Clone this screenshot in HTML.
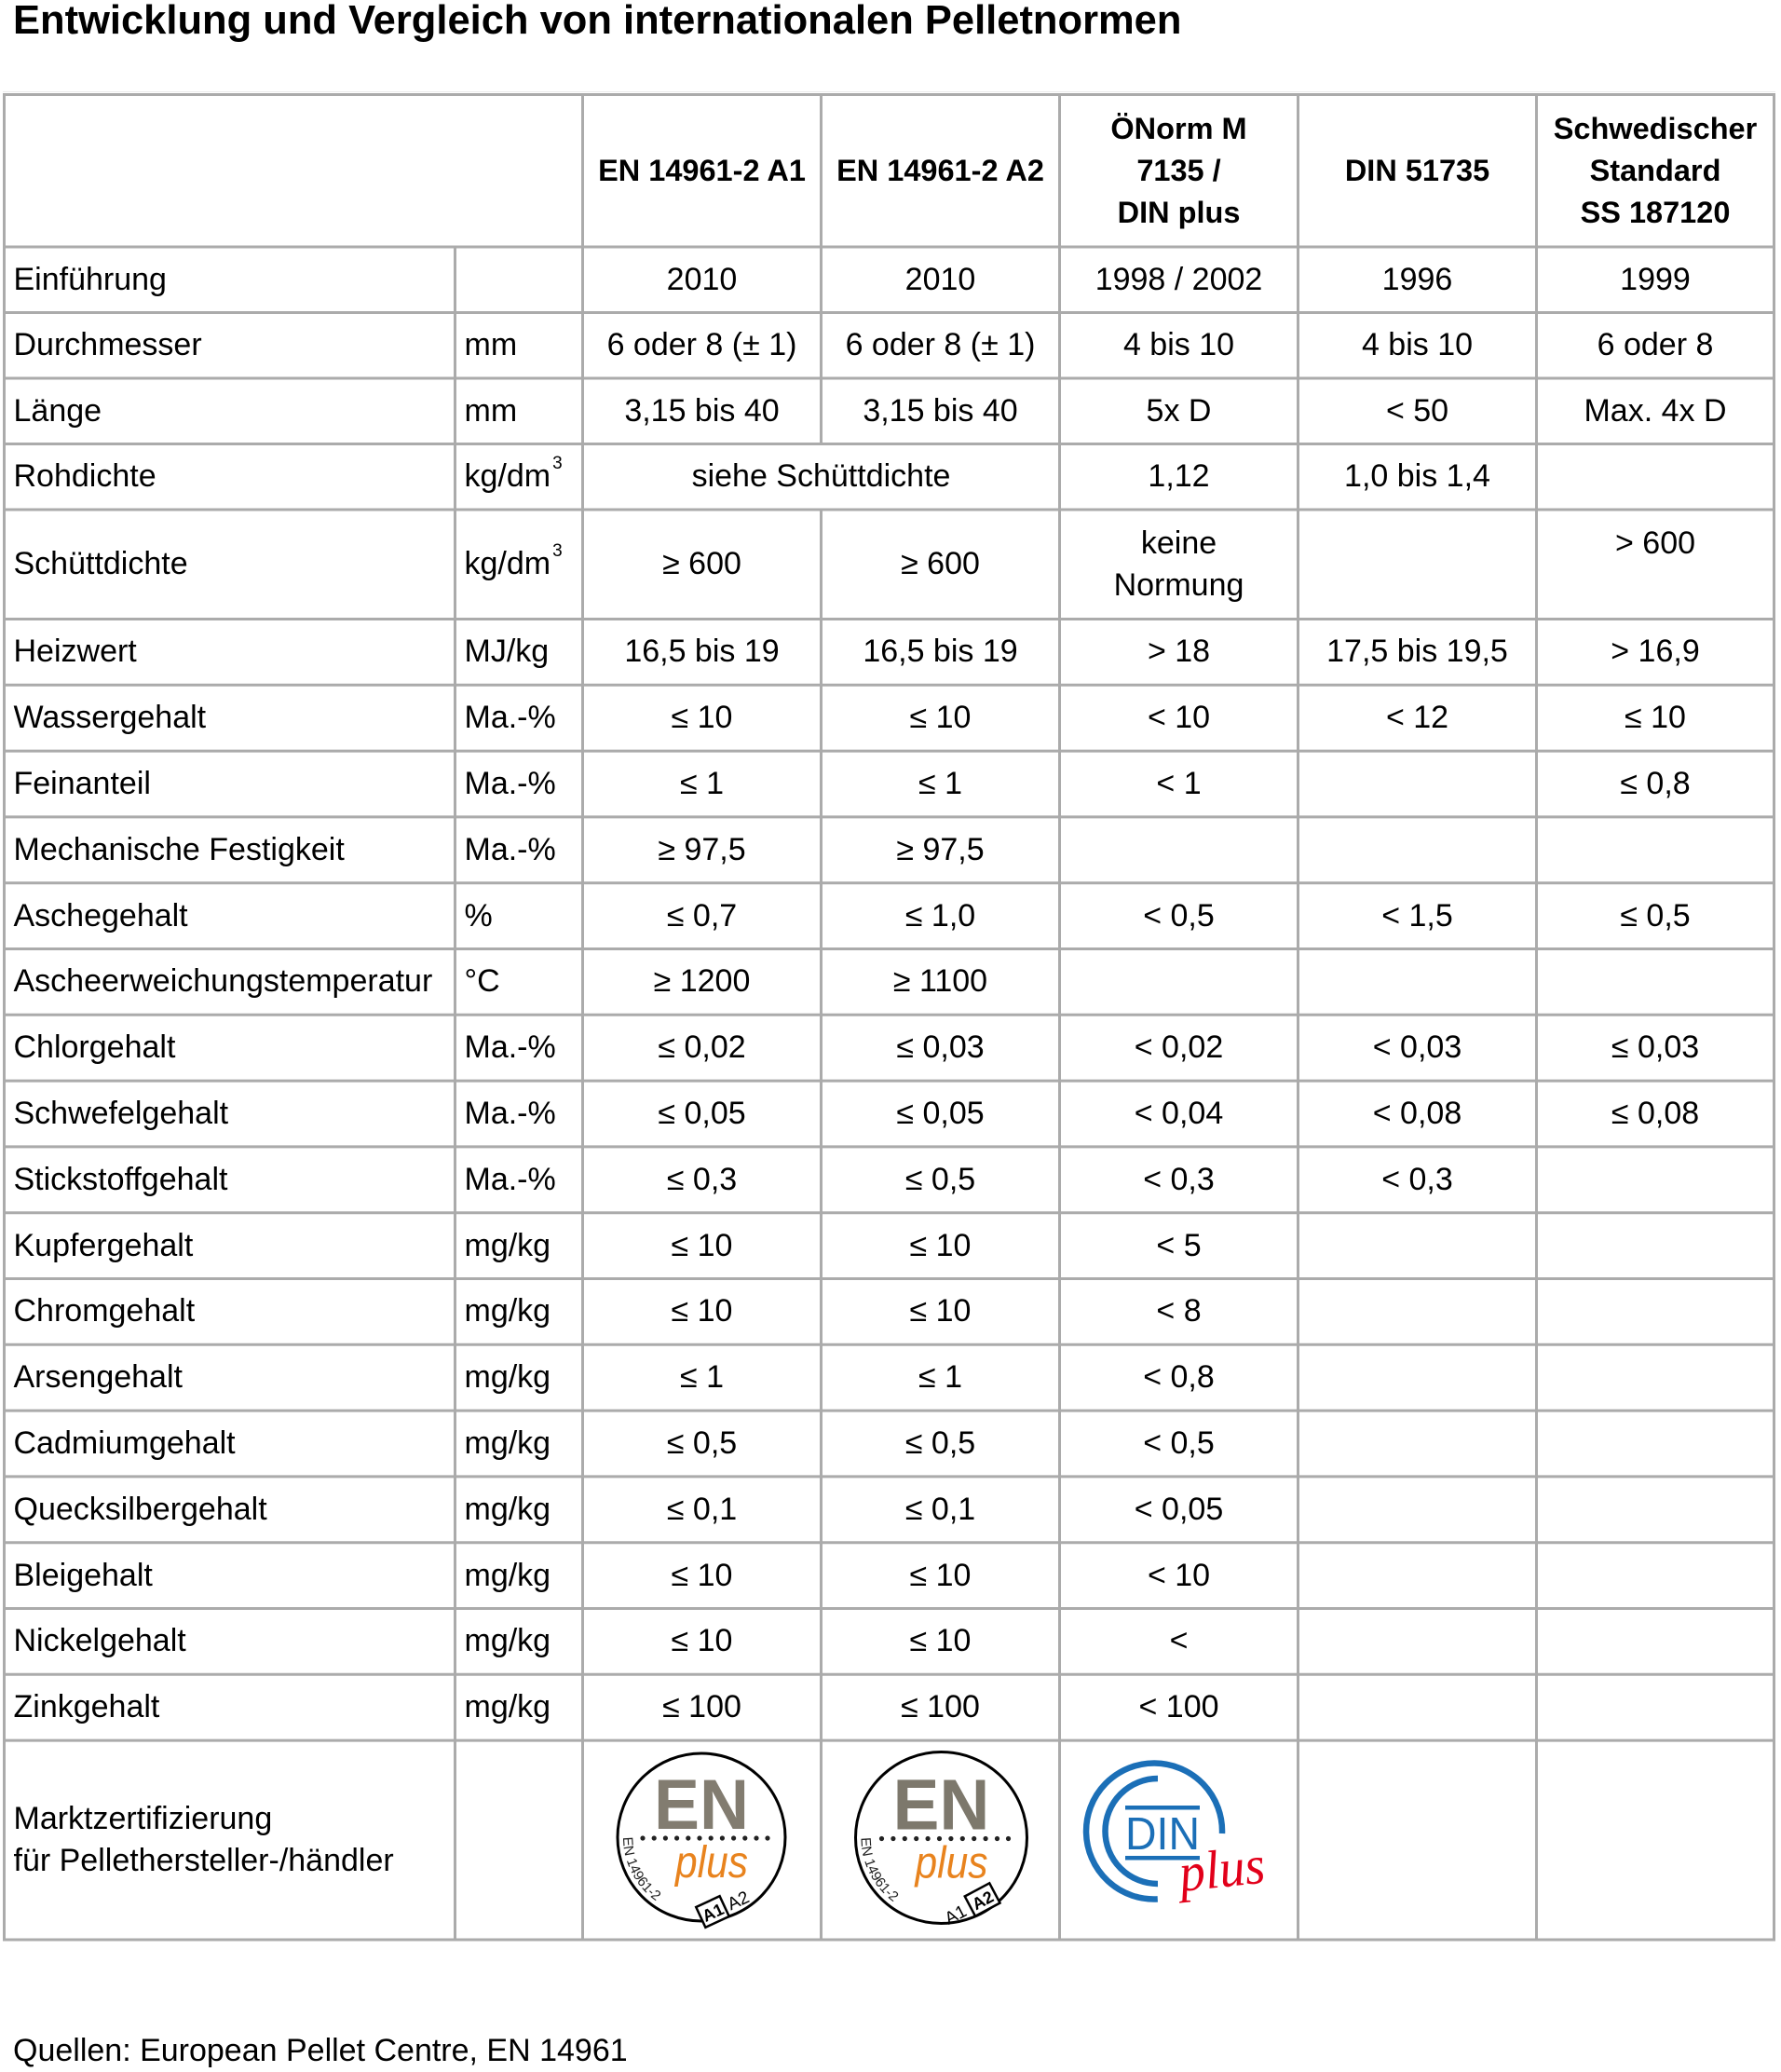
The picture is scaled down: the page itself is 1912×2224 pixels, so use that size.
<!DOCTYPE html>
<html lang="de">
<head>
<meta charset="utf-8">
<style>
  html, body { margin:0; padding:0; background:#fff; }
  body { width:1912px; height:2224px; position:relative; overflow:hidden;
         font-family:"Liberation Sans","DejaVu Sans",sans-serif; color:#000; }
  .title { position:absolute; left:14px; top:1px; font-size:43.5px; line-height:43.5px;
           font-weight:bold; white-space:nowrap; }
  .foot { position:absolute; left:14px; top:2184px; font-size:34px; line-height:34px; white-space:nowrap; }
  svg.lines { position:absolute; left:0; top:0; }
  .grid { position:absolute; left:4.5px; top:101.5px; display:grid;
          grid-template-columns:484px 137px 256px 256px 256px 256px 255px;
          grid-template-rows:163.5px 70.5px 70.5px 70.5px 70.5px 117.5px repeat(17,70.8px) 213.9px;
          font-size:34px; line-height:45px; }
  .grid > div { display:flex; align-items:center; white-space:nowrap; }
  .l, .u { padding-left:10px; justify-content:flex-start; }
  .c { justify-content:center; text-align:center; }
  .h { justify-content:center; text-align:center; font-weight:bold; font-size:32.5px; }
  .s2 { grid-column:span 2; }
  .sp { font-size:19px; line-height:19px; position:relative; top:-14px; margin-left:2px; display:inline-block; }
</style>
</head>
<body>
<div class="title">Entwicklung und Vergleich von internationalen Pelletnormen</div>

<svg class="lines" width="1912" height="2224" viewBox="0 0 1912 2224">
  <g stroke="#ababab" stroke-width="3" fill="none">
    <path d="M3 101.5H1906M3 265H1906M3 335.5H1906M3 406H1906M3 476.5H1906M3 547H1906M3 664.5H1906
             M3 735.3H1906M3 806.1H1906M3 876.9H1906M3 947.7H1906M3 1018.5H1906M3 1089.3H1906
             M3 1160.1H1906M3 1230.9H1906M3 1301.7H1906M3 1372.5H1906M3 1443.3H1906M3 1514.1H1906
             M3 1584.9H1906M3 1655.7H1906M3 1726.5H1906M3 1797.3H1906M3 1868.1H1906M3 2082H1906"/>
    <path d="M4.5 100V2083.5M488.5 265V2083.5M625.5 100V2083.5M881.5 100V476.5M881.5 547V2083.5
             M1137.5 100V2083.5M1393.5 100V2083.5M1649.5 100V2083.5M1904.5 100V2083.5"/>
  </g>
  <g stroke="#ececec" stroke-width="1" fill="none">
    <path d="M3 98.5H1906"/>
  </g>

  <!-- EN plus logo A1 -->
  <g transform="translate(753,1972)">
    <circle r="90" fill="#fff" stroke="#000" stroke-width="3"/>
    <text x="0" y="-9" text-anchor="middle" font-family="Liberation Sans" font-weight="bold" font-size="76" fill="#827c70" textLength="102" lengthAdjust="spacingAndGlyphs">EN</text>
    <g fill="#222">
      <circle cx="-63" cy="1" r="2.6"/><circle cx="-50.8" cy="1" r="2.6"/><circle cx="-38.6" cy="1" r="2.6"/><circle cx="-26.4" cy="1" r="2.6"/><circle cx="-14.2" cy="1" r="2.6"/><circle cx="-2" cy="1" r="2.6"/><circle cx="10.2" cy="1" r="2.6"/><circle cx="22.4" cy="1" r="2.6"/><circle cx="34.6" cy="1" r="2.6"/><circle cx="46.8" cy="1" r="2.6"/><circle cx="59" cy="1" r="2.6"/><circle cx="71" cy="1" r="2.6"/>
    </g>
    <text x="11" y="43" text-anchor="middle" font-family="Liberation Sans" font-style="italic" font-size="48" fill="#e8831e" textLength="78" lengthAdjust="spacingAndGlyphs">plus</text>
    <path id="arc1" d="M -84 0 A 84 84 0 0 0 -49.4 68" fill="none"/>
    <text font-family="Liberation Sans" font-size="15" fill="#222"><textPath href="#arc1">EN 14961-2</textPath></text>
    <g transform="translate(12,80) rotate(-25)">
      <rect x="-14" y="-12" width="28" height="24" fill="#fff" stroke="#000" stroke-width="2.5"/>
      <text x="0" y="7" text-anchor="middle" font-family="Liberation Sans" font-weight="bold" font-size="18">A1</text>
      <text x="30" y="7" text-anchor="middle" font-family="Liberation Sans" font-size="19">A2</text>
    </g>
  </g>

  <!-- EN plus logo A2 -->
  <g transform="translate(1010.5,1972.5)">
    <circle r="92" fill="#fff" stroke="#000" stroke-width="3"/>
    <text x="0" y="-9" text-anchor="middle" font-family="Liberation Sans" font-weight="bold" font-size="77" fill="#7d786c" textLength="104" lengthAdjust="spacingAndGlyphs">EN</text>
    <g fill="#222">
      <circle cx="-64" cy="1" r="2.6"/><circle cx="-51.6" cy="1" r="2.6"/><circle cx="-39.2" cy="1" r="2.6"/><circle cx="-26.8" cy="1" r="2.6"/><circle cx="-14.4" cy="1" r="2.6"/><circle cx="-2" cy="1" r="2.6"/><circle cx="10.4" cy="1" r="2.6"/><circle cx="22.8" cy="1" r="2.6"/><circle cx="35.2" cy="1" r="2.6"/><circle cx="47.6" cy="1" r="2.6"/><circle cx="60" cy="1" r="2.6"/><circle cx="72" cy="1" r="2.6"/>
    </g>
    <text x="11" y="43" text-anchor="middle" font-family="Liberation Sans" font-style="italic" font-size="48" fill="#e8831e" textLength="78" lengthAdjust="spacingAndGlyphs">plus</text>
    <path id="arc2" d="M -86 0 A 86 86 0 0 0 -50.5 69.6" fill="none"/>
    <text font-family="Liberation Sans" font-size="15" fill="#222"><textPath href="#arc2">EN 14961-2</textPath></text>
    <g transform="translate(15,82) rotate(-28)">
      <text x="0" y="7" text-anchor="middle" font-family="Liberation Sans" font-size="19">A1</text>
      <rect x="18" y="-12" width="30" height="24" fill="#fff" stroke="#000" stroke-width="2.5"/>
      <text x="33" y="7" text-anchor="middle" font-family="Liberation Sans" font-weight="bold" font-size="18">A2</text>
    </g>
  </g>

  <!-- DIN plus logo -->
  <g fill="none" stroke="#1b6fb7" stroke-width="6.5">
    <path d="M 1242.8 2038.4 A 73 73 0 1 1 1312 1968"/>
    <path d="M 1243 1909 A 56.5 56.5 0 1 0 1243 2022"/>
  </g>
  <rect x="1208" y="1938" width="80" height="4.5" fill="#1b6fb7"/>
  <rect x="1208" y="1992" width="80" height="4.5" fill="#1b6fb7"/>
  <text x="1208" y="1985" font-family="Liberation Sans" font-size="49" fill="#1b6fb7" textLength="80" lengthAdjust="spacingAndGlyphs">DIN</text>
  <text x="1268" y="2030" font-family="Liberation Serif" font-style="italic" font-size="58" fill="#e2001a" textLength="92" lengthAdjust="spacingAndGlyphs" transform="rotate(-6 1268 2030)">plus</text>
</svg>

<div class="grid">
  <div class="s2"></div>
  <div class="h">EN 14961-2 A1</div>
  <div class="h">EN 14961-2 A2</div>
  <div class="h">ÖNorm M<br>7135 /<br>DIN plus</div>
  <div class="h">DIN 51735</div>
  <div class="h">Schwedischer<br>Standard<br>SS 187120</div>

  <div class="l">Einführung</div><div class="u"></div><div class="c">2010</div><div class="c">2010</div><div class="c">1998 / 2002</div><div class="c">1996</div><div class="c">1999</div>

  <div class="l">Durchmesser</div><div class="u">mm</div><div class="c">6 oder 8 (± 1)</div><div class="c">6 oder 8 (± 1)</div><div class="c">4 bis 10</div><div class="c">4 bis 10</div><div class="c">6 oder 8</div>

  <div class="l">Länge</div><div class="u">mm</div><div class="c">3,15 bis 40</div><div class="c">3,15 bis 40</div><div class="c">5x D</div><div class="c">&lt; 50</div><div class="c">Max. 4x D</div>

  <div class="l">Rohdichte</div><div class="u">kg/dm<span class="sp">3</span></div><div class="c s2">siehe Schüttdichte</div><div class="c">1,12</div><div class="c">1,0 bis 1,4</div><div class="c"></div>

  <div class="l">Schüttdichte</div><div class="u">kg/dm<span class="sp">3</span></div><div class="c">≥ 600</div><div class="c">≥ 600</div><div class="c">keine<br>Normung</div><div class="c"></div><div class="c">&gt; 600<br>&nbsp;</div>

  <div class="l">Heizwert</div><div class="u">MJ/kg</div><div class="c">16,5 bis 19</div><div class="c">16,5 bis 19</div><div class="c">&gt; 18</div><div class="c">17,5 bis 19,5</div><div class="c">&gt; 16,9</div>

  <div class="l">Wassergehalt</div><div class="u">Ma.-%</div><div class="c">≤ 10</div><div class="c">≤ 10</div><div class="c">&lt; 10</div><div class="c">&lt; 12</div><div class="c">≤ 10</div>

  <div class="l">Feinanteil</div><div class="u">Ma.-%</div><div class="c">≤ 1</div><div class="c">≤ 1</div><div class="c">&lt; 1</div><div class="c"></div><div class="c">≤ 0,8</div>

  <div class="l">Mechanische Festigkeit</div><div class="u">Ma.-%</div><div class="c">≥ 97,5</div><div class="c">≥ 97,5</div><div class="c"></div><div class="c"></div><div class="c"></div>

  <div class="l">Aschegehalt</div><div class="u">%</div><div class="c">≤ 0,7</div><div class="c">≤ 1,0</div><div class="c">&lt; 0,5</div><div class="c">&lt; 1,5</div><div class="c">≤ 0,5</div>

  <div class="l">Ascheerweichungstemperatur</div><div class="u">°C</div><div class="c">≥ 1200</div><div class="c">≥ 1100</div><div class="c"></div><div class="c"></div><div class="c"></div>

  <div class="l">Chlorgehalt</div><div class="u">Ma.-%</div><div class="c">≤ 0,02</div><div class="c">≤ 0,03</div><div class="c">&lt; 0,02</div><div class="c">&lt; 0,03</div><div class="c">≤ 0,03</div>

  <div class="l">Schwefelgehalt</div><div class="u">Ma.-%</div><div class="c">≤ 0,05</div><div class="c">≤ 0,05</div><div class="c">&lt; 0,04</div><div class="c">&lt; 0,08</div><div class="c">≤ 0,08</div>

  <div class="l">Stickstoffgehalt</div><div class="u">Ma.-%</div><div class="c">≤ 0,3</div><div class="c">≤ 0,5</div><div class="c">&lt; 0,3</div><div class="c">&lt; 0,3</div><div class="c"></div>

  <div class="l">Kupfergehalt</div><div class="u">mg/kg</div><div class="c">≤ 10</div><div class="c">≤ 10</div><div class="c">&lt; 5</div><div class="c"></div><div class="c"></div>

  <div class="l">Chromgehalt</div><div class="u">mg/kg</div><div class="c">≤ 10</div><div class="c">≤ 10</div><div class="c">&lt; 8</div><div class="c"></div><div class="c"></div>

  <div class="l">Arsengehalt</div><div class="u">mg/kg</div><div class="c">≤ 1</div><div class="c">≤ 1</div><div class="c">&lt; 0,8</div><div class="c"></div><div class="c"></div>

  <div class="l">Cadmiumgehalt</div><div class="u">mg/kg</div><div class="c">≤ 0,5</div><div class="c">≤ 0,5</div><div class="c">&lt; 0,5</div><div class="c"></div><div class="c"></div>

  <div class="l">Quecksilbergehalt</div><div class="u">mg/kg</div><div class="c">≤ 0,1</div><div class="c">≤ 0,1</div><div class="c">&lt; 0,05</div><div class="c"></div><div class="c"></div>

  <div class="l">Bleigehalt</div><div class="u">mg/kg</div><div class="c">≤ 10</div><div class="c">≤ 10</div><div class="c">&lt; 10</div><div class="c"></div><div class="c"></div>

  <div class="l">Nickelgehalt</div><div class="u">mg/kg</div><div class="c">≤ 10</div><div class="c">≤ 10</div><div class="c">&lt;</div><div class="c"></div><div class="c"></div>

  <div class="l">Zinkgehalt</div><div class="u">mg/kg</div><div class="c">≤ 100</div><div class="c">≤ 100</div><div class="c">&lt; 100</div><div class="c"></div><div class="c"></div>

  <div class="l">Marktzertifizierung<br>für Pellethersteller-/händler</div><div class="u"></div><div class="c"></div><div class="c"></div><div class="c"></div><div class="c"></div><div class="c"></div>
</div>

<div class="foot">Quellen: European Pellet Centre, EN 14961</div>
</body>
</html>
